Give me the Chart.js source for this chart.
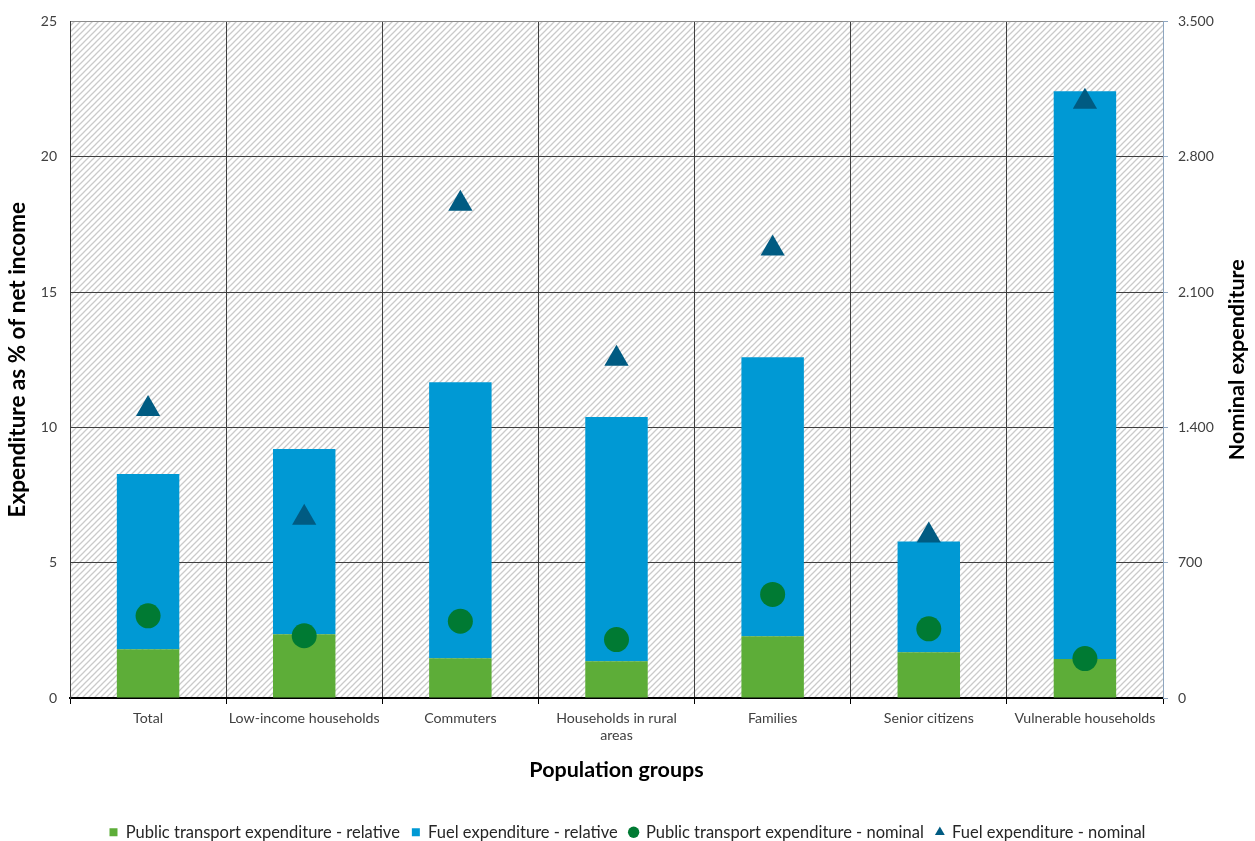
<!DOCTYPE html>
<html>
<head>
<meta charset="utf-8">
<script src="https://cdn.jsdelivr.net/npm/chart.js@4.4.0/dist/chart.umd.min.js"></script>
<style>
    html, body { margin: 0; padding: 0; background: #fff; }
    #wrap { width: 1255px; height: 841px; }
</style>
</head>
<body>
<div id="wrap"><canvas id="expChart"></canvas></div>
<script>
// Values
const groups = ['Total', 'Low-income households', 'Commuters', ['Households in rural', 'areas'], 'Families', 'Senior citizens', 'Vulnerable households'];
const publicRelative = [1.80, 2.36, 1.47, 1.36, 2.28, 1.69, 1.44];
const fuelRelative = [6.48, 6.84, 10.20, 9.02, 10.31, 4.09, 20.98];
const publicNominal = [425, 322, 397, 302, 536, 358, 204];
const fuelNominal = [1495, 933, 2557, 1755, 2325, 840, 3085];
const leftTicks = [0, 5, 10, 15, 20, 25];
const rightTicks = [0, 700, 1400, 2100, 2800, 3500];

const FONT = 'Lato, "Open Sans", sans-serif';
const tickColor = '#404040';
const gridDark = '#3f3f3f';
const axisBlue = '#8ea6c0';
const bottomPad = -9.5;

// diagonal hatch used as plot background
function makeHatch() {
    const c = document.createElement('canvas');
    c.width = 6; c.height = 6;
    const g = c.getContext('2d');
    g.fillStyle = '#fff';
    g.fillRect(0, 0, 6, 6);
    g.strokeStyle = '#cacaca';
    g.lineWidth = 1.3;
    g.beginPath();
    g.moveTo(-1, 7); g.lineTo(7, -1);
    g.moveTo(-4, 4); g.lineTo(4, -4);
    g.moveTo(2, 10); g.lineTo(10, 2);
    g.stroke();
    return g.createPattern(c, 'repeat');
}

const hatchBg = {
    id: 'hatchBg',
    beforeDraw(chart) {
        const { ctx, chartArea } = chart;
        ctx.save();
        ctx.fillStyle = makeHatch();
        ctx.fillRect(chartArea.left, chartArea.top, chartArea.right - chartArea.left, chartArea.bottom - chartArea.top);
        ctx.restore();
    }
};

// right axis title reads bottom-to-top, so draw it by hand
const rightTitle = {
    id: 'rightTitle',
    afterDraw(chart) {
        const { ctx, chartArea } = chart;
        const s = chart.scales.y1;
        ctx.save();
        ctx.translate(s.right - 18, (chartArea.top + chartArea.bottom) / 2);
        ctx.rotate(-Math.PI / 2);
        ctx.font = 'bold 21.5px ' + FONT;
        ctx.fillStyle = '#000';
        ctx.textAlign = 'center';
        ctx.textBaseline = 'middle';
        ctx.fillText('Nominal expenditure', 0, 0);
        ctx.restore();
    }
};

const ctx = document.getElementById('expChart').getContext('2d');
new Chart(ctx, {
    data: {
        labels: groups,
        datasets: [
            {
                type: 'bar', label: 'Public transport expenditure - relative',
                data: publicRelative, backgroundColor: '#5dad38', pointStyle: 'rect',
                yAxisID: 'y', stack: 's', order: 2, barPercentage: 0.4, categoryPercentage: 1
            },
            {
                type: 'bar', label: 'Fuel expenditure - relative',
                data: fuelRelative, backgroundColor: '#0099d4', pointStyle: 'rect',
                yAxisID: 'y', stack: 's', order: 2, barPercentage: 0.4, categoryPercentage: 1
            },
            {
                type: 'line', label: 'Public transport expenditure - nominal',
                data: publicNominal, showLine: false, yAxisID: 'y1', order: 1,
                pointStyle: 'circle', pointRadius: 12.5, pointHoverRadius: 12.5,
                backgroundColor: '#007a33', borderColor: '#007a33', pointBorderWidth: 0
            },
            {
                type: 'line', label: 'Fuel expenditure - nominal',
                data: fuelNominal, showLine: false, yAxisID: 'y1', order: 1,
                pointStyle: 'triangle', pointRadius: 14, pointHoverRadius: 14,
                backgroundColor: '#005b82', borderColor: '#005b82', pointBorderWidth: 0
            }
        ]
    },
    options: {
        responsive: true,
        maintainAspectRatio: false,
        animation: false,
        devicePixelRatio: 1,
        layout: { padding: { top: 19, left: 0, right: 0, bottom: bottomPad } },
        scales: {
            x: {
                stacked: true,
                offset: true,
                afterFit: (s) => { s.height = 841 - 698 - s.chart.legend.height - bottomPad; },
                grid: {
                    offset: true,
                    color: (c) => c.index >= groups.length ? 'rgba(0,0,0,0)' : gridDark,
                    tickLength: 6,
                    tickColor: '#000'
                },
                border: { color: '#000', width: 2 },
                ticks: { color: tickColor, font: { family: FONT, size: 14.2 }, padding: 6, maxRotation: 0, autoSkip: false },
                title: { display: true, text: 'Population groups', color: '#000', font: { family: FONT, size: 21.5, weight: 'bold' }, padding: { top: 0, bottom: 29 } }
            },
            y: {
                stacked: true,
                position: 'left',
                min: 0, max: 25,
                afterFit: (s) => { s.width = 70; },
                afterBuildTicks: (s) => { s.ticks = leftTicks.map(v => ({ value: v })); },
                grid: {
                    color: (c) => (c.tick && c.tick.value === 25) ? '#8c8c8c' : gridDark,
                    drawTicks: false
                },
                border: { color: gridDark },
                ticks: { color: tickColor, font: { family: FONT, size: 14 }, padding: 13 },
                title: { display: true, text: 'Expenditure as % of net income', color: '#000', font: { family: FONT, size: 22.5, weight: 'bold' }, padding: { top: 4.5, bottom: 0 } }
            },
            y1: {
                position: 'right',
                min: 0, max: 3500,
                afterFit: (s) => { s.width = 92; },
                afterBuildTicks: (s) => { s.ticks = rightTicks.map(v => ({ value: v })); },
                grid: { drawOnChartArea: false, color: axisBlue, tickLength: 5 },
                border: { color: axisBlue },
                ticks: {
                    color: tickColor, font: { family: FONT, size: 14 }, padding: 10,
                    callback: (v) => Number(v).toLocaleString('de-DE')
                }
            }
        },
        plugins: {
            legend: {
                position: 'bottom',
                labels: {
                    usePointStyle: true,
                    boxWidth: 8, boxHeight: 8,
                    padding: 12,
                    color: '#262626',
                    font: { family: FONT, size: 16.5 },
                    sort: (a, b) => a.datasetIndex - b.datasetIndex
                }
            },
            tooltip: { enabled: false }
        }
    },
    plugins: [hatchBg, rightTitle]
});
</script>
</body>
</html>
